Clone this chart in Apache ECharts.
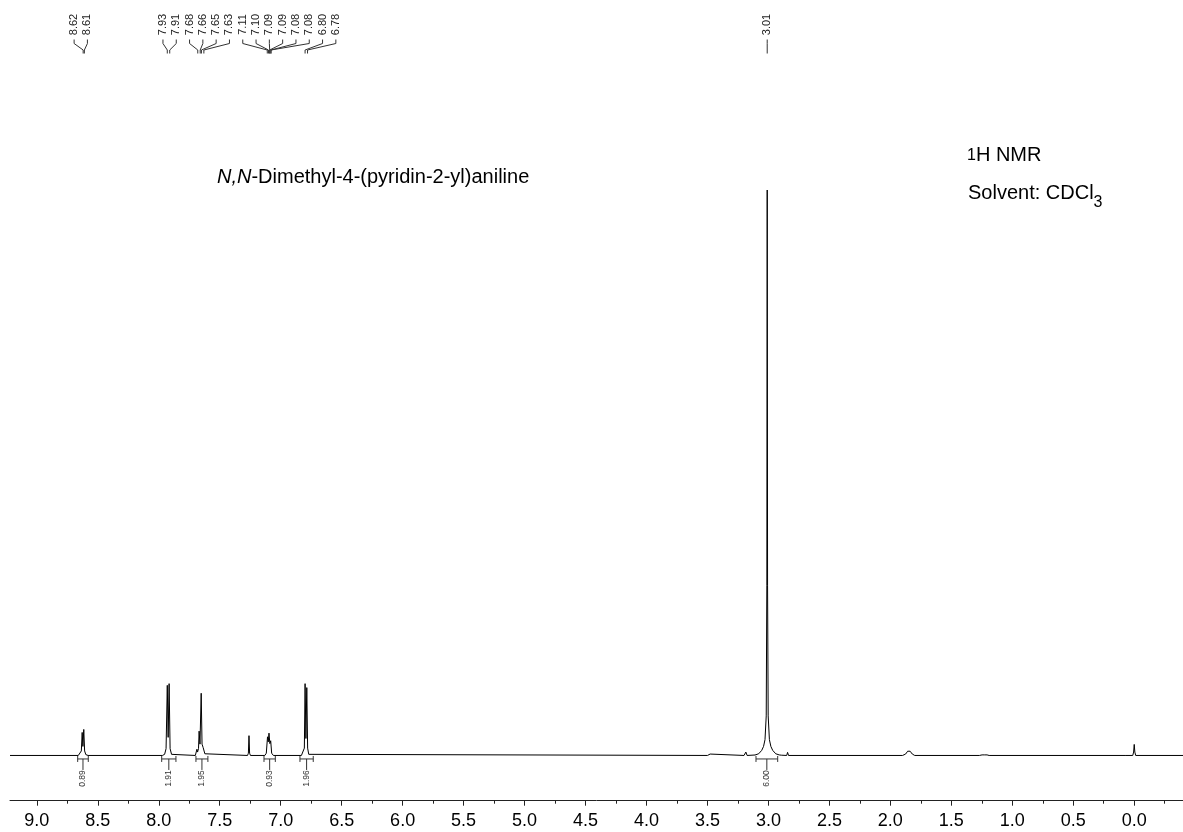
<!DOCTYPE html>
<html><head><meta charset="utf-8">
<script src="https://cdn.jsdelivr.net/npm/echarts@6/dist/echarts.min.js"></script>
<style>html,body{margin:0;padding:0;background:#fff}#c{width:1183px;height:832px}</style>
</head><body><div id="c"></div>
<script>
// ---------- data ----------
// spectrum: [chemical shift (ppm), relative intensity (tallest = 100)]
const spectrum = [
  [9.22, 0], [8.66, 0], [8.645, 0.15], [8.635, 0.8], [8.628, 4.07], [8.622, 1.6], [8.615, 4.6], [8.608, 0.8], [8.598, 0.15], [8.58, 0],
  [7.97, 0], [7.952, 0.2], [7.94, 1.2], [7.93, 12.4], [7.923, 3.2], [7.915, 12.7], [7.907, 1.2], [7.895, 0.2], [7.88, 0],
  [7.70, 0], [7.692, 0.3], [7.687, 1.1], [7.682, 0.6], [7.674, 1.2], [7.669, 4.3], [7.662, 2.0], [7.652, 11.0], [7.645, 2.0], [7.636, 1.4], [7.630, 1.2], [7.622, 0.3], [7.61, 0],
  [7.272, 0], [7.265, 0.4], [7.26, 3.5], [7.255, 0.4], [7.248, 0],
  [7.13, 0], [7.118, 0.4], [7.108, 3.3], [7.102, 2.4], [7.096, 3.95], [7.089, 2.1], [7.082, 2.6], [7.074, 0.4], [7.06, 0],
  [6.83, 0], [6.815, 0.2], [6.806, 1.3], [6.800, 12.7], [6.793, 3.0], [6.786, 12.0], [6.779, 1.3], [6.77, 0.2], [6.755, 0],
  [3.50, 0], [3.49, 0.2], [3.485, 0.1], [3.478, 0.25], [3.47, 0],
  [3.20, 0], [3.185, 0.6], [3.175, 0],
  [3.11, 0.08], [3.08, 0.3], [3.055, 0.9], [3.04, 1.6], [3.028, 2.8], [3.018, 7], [3.013, 30], [3.01, 100], [3.007, 30], [3.002, 7], [2.992, 2.8], [2.98, 1.6], [2.965, 0.9], [2.94, 0.3],
  [2.912, 0.1], [2.905, 0.25], [2.895, 0.05], [2.85, 0], [2.843, 0.55], [2.835, 0],
  [1.90, 0], [1.875, 0.25], [1.858, 0.75], [1.848, 1.06], [1.838, 0.75], [1.82, 0.25], [1.80, 0],
  [1.27, 0], [1.255, 0.35], [1.248, 0.1], [1.24, 0.4], [1.23, 0.1], [1.215, 0.45], [1.207, 0.1], [1.20, 0.4], [1.19, 0],
  [0.075, 0], [0.07, 0.2], [0.065, 0], [0.012, 0], [0.005, 0.6], [0.0, 1.95], [-0.005, 0.6], [-0.012, 0], [-0.40, 0]
];
const peakLabels = [8.62, 8.61, 7.93, 7.91, 7.68, 7.66, 7.65, 7.63, 7.11, 7.10, 7.09, 7.09, 7.08, 7.08, 6.80, 6.78, 3.01];
const integralFrom = [8.665, 7.976, 7.695, 7.137, 6.842, 3.102];
const integralTo = [8.578, 7.859, 7.597, 7.044, 6.733, 2.924];
const integralValues = [0.89, 1.91, 1.95, 0.93, 1.96, 6.00];
const majorTicks = [9.0, 8.5, 8.0, 7.5, 7.0, 6.5, 6.0, 5.5, 5.0, 4.5, 4.0, 3.5, 3.0, 2.5, 2.0, 1.5, 1.0, 0.5, 0.0];
const minorTicks = [8.75, 8.25, 7.75, 7.25, 6.75, 6.25, 5.75, 5.25, 4.75, 4.25, 3.75, 3.25, 2.75, 2.25, 1.75, 1.25, 0.75, 0.25, -0.25];
const compoundItalic = 'N,N';
const compoundRest = '-Dimethyl-4-(pyridin-2-yl)aniline';
const nucleusSup = '1';
const nucleusText = 'H NMR';
const solventText = 'Solvent: CDCl';
const solventSub = '3';

// ---------- layout ----------
const FONT = '"Liberation Sans", Arial, Helvetica, sans-serif';
const LABEL_SPACING = 13.3;
const CLUSTER_GAP = 0.6;
const CLUSTER_SHIFT = [-3, 12, 0];
const clusters = [];
peakLabels.forEach((v, i) => {
  if (i === 0 || peakLabels[i - 1] - v > CLUSTER_GAP) clusters.push([i]);
  else clusters[clusters.length - 1].push(i);
});
const clusterOf = [], rankOf = [];
clusters.forEach((c, ci) => c.forEach((idx, k) => { clusterOf[idx] = ci; rankOf[idx] = k; }));

function renderPeakLabel(params, api) {
  const i = params.dataIndex;
  const ci = clusterOf[i];
  const c = clusters[ci];
  const px = api.coord([peakLabels[i], 0])[0];
  const a = api.coord([peakLabels[c[0]], 0])[0];
  const b = api.coord([peakLabels[c[c.length - 1]], 0])[0];
  const center = (a + b) / 2 + (CLUSTER_SHIFT[ci] || 0);
  const lx = center + (rankOf[i] - (c.length - 1) / 2) * LABEL_SPACING;
  return {
    type: 'group',
    children: [
      { type: 'text', x: lx, y: 24.5, rotation: Math.PI / 2,
        style: { text: peakLabels[i].toFixed(2), font: '11px ' + FONT, fill: '#222', align: 'center', verticalAlign: 'middle' } },
      { type: 'polyline', shape: { points: [[lx, 39.5], [lx, 43.5], [px, 50], [px, 53.5]] },
        style: { stroke: '#333', lineWidth: 1, fill: 'none' } }
    ]
  };
}

function renderIntegral(params, api) {
  const i = params.dataIndex;
  const p1 = api.coord([integralFrom[i], 0]);
  const p2 = api.coord([integralTo[i], 0]);
  const y0 = p1[1] + 3.5;
  const cx = (p1[0] + p2[0]) / 2;
  const st = { stroke: '#333', lineWidth: 1 };
  return {
    type: 'group',
    children: [
      { type: 'line', shape: { x1: p1[0], y1: y0, x2: p2[0], y2: y0 }, style: st },
      { type: 'line', shape: { x1: p1[0], y1: y0 - 3, x2: p1[0], y2: y0 + 3 }, style: st },
      { type: 'line', shape: { x1: p2[0], y1: y0 - 3, x2: p2[0], y2: y0 + 3 }, style: st },
      { type: 'line', shape: { x1: cx, y1: y0, x2: cx, y2: y0 + 11 }, style: st },
      { type: 'text', x: cx, y: y0 + 19.5, rotation: Math.PI / 2,
        style: { text: integralValues[i].toFixed(2), font: '8.5px ' + FONT, fill: '#333', align: 'center', verticalAlign: 'middle' } }
    ]
  };
}

const chart = echarts.init(document.getElementById('c'), null, { renderer: 'canvas' });
const axisCommon = { type: 'value', inverse: true, min: -0.40, max: 9.22, splitLine: { show: false } };
const txt = (size, lh, extra) => Object.assign({ fontSize: size, lineHeight: lh, fontFamily: FONT, fontWeight: 'normal', color: '#000' }, extra || {});
chart.setOption({
  animation: false,
  backgroundColor: '#fff',
  title: [
    { text: '{i|' + compoundItalic + '}{n|' + compoundRest + '}', left: 217, top: 167, padding: 0,
      textStyle: { fontWeight: 'normal', rich: { i: txt(20, 20, { fontStyle: 'italic' }), n: txt(20, 20) } } },
    { text: '{s|' + nucleusSup + '}{n|' + nucleusText + '}', left: 967, top: 145.5, padding: 0,
      textStyle: { fontWeight: 'normal', rich: { s: txt(16, 20), n: txt(20, 20) } } },
    { text: '{n|' + solventText + '}{b|' + solventSub + '}', left: 968, top: 175.5, padding: 0,
      textStyle: { fontWeight: 'normal', rich: { n: txt(20, 35), b: txt(16, 16, { verticalAlign: 'bottom' }) } } }
  ],
  grid: { left: 10, right: 0, top: 190, bottom: 31.3, containLabel: false },
  xAxis: [
    Object.assign({}, axisCommon, {
      position: 'bottom',
      axisLine: { show: true, onZero: false, lineStyle: { color: '#222', width: 1 } },
      axisTick: { show: true, customValues: majorTicks, length: 5, lineStyle: { color: '#222' } },
      axisLabel: { show: true, customValues: majorTicks, formatter: v => Number(v).toFixed(1), fontSize: 18, fontFamily: FONT, color: '#000', margin: 11 }
    }),
    Object.assign({}, axisCommon, {
      position: 'bottom',
      axisLine: { show: false, onZero: false },
      axisTick: { show: true, customValues: minorTicks, length: 3, lineStyle: { color: '#222' } },
      axisLabel: { show: false }
    })
  ],
  yAxis: { type: 'value', min: -8, max: 100, show: false },
  series: [
    { type: 'line', data: spectrum, showSymbol: false, symbol: 'none', lineStyle: { color: '#000', width: 1 }, clip: true, xAxisIndex: 0 },
    { type: 'custom', data: integralFrom.map((f, i) => [f, 0]), renderItem: renderIntegral, clip: false, xAxisIndex: 0, silent: true },
    { type: 'custom', data: peakLabels.map(v => [v, 0]), renderItem: renderPeakLabel, clip: false, xAxisIndex: 0, silent: true }
  ]
});
</script></body></html>
